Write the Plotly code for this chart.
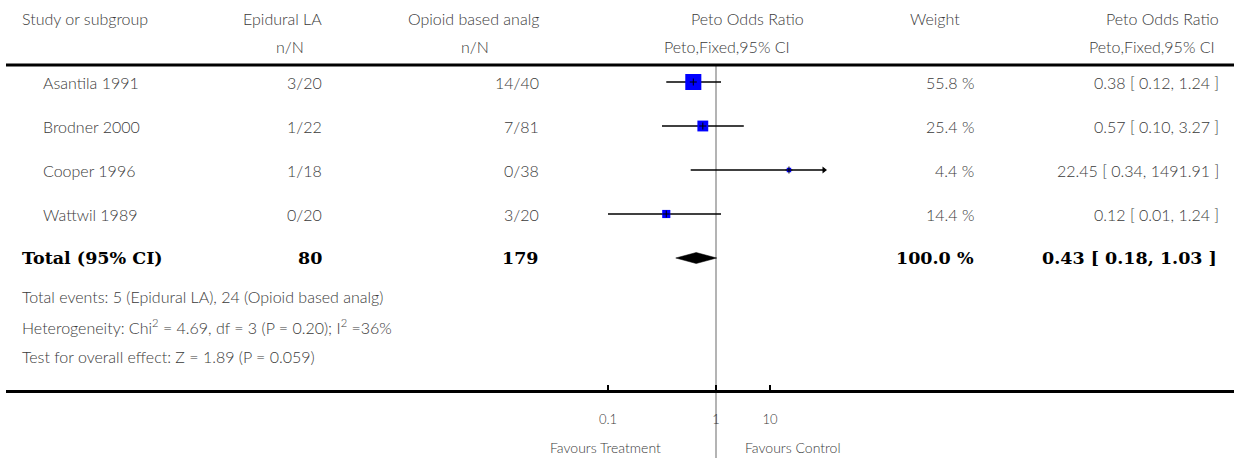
import math
import plotly.graph_objects as go

# ---- study data -------------------------------------------------------
studies = ["Asantila 1991", "Brodner 2000", "Cooper 1996", "Wattwil 1989"]
epi_events = [3, 1, 1, 0]
epi_total = [20, 22, 18, 20]
opi_events = [14, 7, 0, 3]
opi_total = [40, 81, 38, 20]
peto_or = [0.38, 0.57, 22.45, 0.12]
ci_low = [0.12, 0.10, 0.34, 0.01]
ci_high = [1.24, 3.27, 1491.91, 1.24]
weight = [55.8, 25.4, 4.4, 14.4]

pooled_or = 0.43
pooled_low = 0.18
pooled_high = 1.03
pooled_weight = 100.0

chi2, chi_df, p_het, i2 = 4.69, 3, 0.20, 36
z_val, p_z = 1.89, 0.059

tick_vals = [0.01, 1, 10]
tick_text = ["0.1", "1", "10"]
display_max = 100  # CI arms beyond this are drawn as arrows

# ---- layout geometry (pixels) ----------------------------------------
W, H = 1234, 458
row_y = [82, 126, 170, 214]
total_y = 258
foot_y = [296, 326, 356]
axis_y = 391
null_px = 716          # position of OR = 1
px_per_decade = 54
left_px = 6

r0 = -(null_px - left_px) / px_per_decade
r1 = r0 + (W - left_px) / px_per_decade

TXT = "#3a3a3a"
FONT = "Lato"
SERIF = "DejaVu Serif"
BASE = 16

fig = go.Figure()

# line of no effect
fig.add_trace(go.Scatter(x=[1, 1], y=[64, H], mode="lines",
                         line=dict(color="#b4b4b4", width=2),
                         hoverinfo="skip", showlegend=False))

# confidence intervals
for y, lo, hi in zip(row_y, ci_low, ci_high):
    fig.add_trace(go.Scatter(x=[lo, min(hi, display_max)], y=[y, y], mode="lines",
                             line=dict(color="black", width=1.5),
                             hoverinfo="skip", showlegend=False))
    if hi > display_max:
        fig.add_trace(go.Scatter(x=[display_max], y=[y], mode="markers",
                                 marker=dict(symbol="triangle-right", size=6, color="black"),
                                 hoverinfo="skip", showlegend=False))

# weighted squares
fig.add_trace(go.Scatter(
    x=peto_or, y=row_y, mode="markers",
    marker=dict(symbol="square", color="#0000ff", opacity=1,
                size=[2.15 * math.sqrt(w) for w in weight], line=dict(width=0)),
    hoverinfo="skip", showlegend=False))
fig.add_trace(go.Scatter(
    x=peto_or, y=row_y, mode="markers",
    marker=dict(symbol="cross-thin", size=5, opacity=1,
                line=dict(color="black", width=1)),
    hoverinfo="skip", showlegend=False))

# pooled diamond
half_h = 5.5
fig.add_trace(go.Scatter(
    x=[pooled_low, pooled_or, pooled_high, pooled_or, pooled_low],
    y=[total_y, total_y - half_h, total_y, total_y + half_h, total_y],
    mode="lines", fill="toself", fillcolor="black",
    line=dict(color="black", width=0.5),
    hoverinfo="skip", showlegend=False))


def txt(x_px, y, s, anchor="right", size=BASE, bold=False, serif=False, color=TXT):
    font = dict(family=SERIF if serif else FONT, size=size,
                color="black" if serif else color)
    if not serif:
        font["weight"] = 300
    fig.add_annotation(
        x=x_px / W, xref="paper", y=y, yref="y", text=f"<b>{s}</b>" if bold else s,
        showarrow=False, xanchor=anchor, yanchor="middle", font=font)


# headers
hdr1, hdr2 = 18, 46
txt(20, hdr1, "Study or subgroup", "left")
txt(324, hdr1, "Epidural LA")
txt(290, hdr2, "n/N", "center")
txt(541, hdr1, "Opioid based analg")
txt(475, hdr2, "n/N", "center")
txt(806, hdr1, "Peto Odds Ratio")
txt(792, hdr2, "Peto,Fixed,95% CI")
txt(962, hdr1, "Weight")
txt(1221, hdr1, "Peto Odds Ratio")
txt(1217, hdr2, "Peto,Fixed,95% CI")

# study rows
for i, y in enumerate(row_y):
    txt(41, y, studies[i], "left")
    txt(324, y, f"{epi_events[i]}/{epi_total[i]}")
    txt(541, y, f"{opi_events[i]}/{opi_total[i]}")
    txt(976, y, f"{weight[i]:.1f} %")
    txt(1221, y, f"{peto_or[i]:.2f} [ {ci_low[i]:.2f}, {ci_high[i]:.2f} ]")

# total row
TS = 17.5
txt(20, total_y, "Total (95% CI)", "left", size=TS, bold=True, serif=True)
txt(324, total_y, f"{sum(epi_total)}", size=TS, bold=True, serif=True)
txt(541, total_y, f"{sum(opi_total)}", size=TS, bold=True, serif=True)
txt(976, total_y, f"{pooled_weight:.1f} %", size=TS, bold=True, serif=True)
txt(1219, total_y, f"{pooled_or:.2f} [ {pooled_low:.2f}, {pooled_high:.2f} ]",
    size=TS, bold=True, serif=True)

# footnotes
txt(20, foot_y[0], f"Total events: {sum(epi_events)} (Epidural LA), "
    f"{sum(opi_events)} (Opioid based analg)", "left")
txt(20, foot_y[1], f"Heterogeneity: Chi<sup>2</sup> = {chi2:.2f}, df = {chi_df} "
    f"(P = {p_het:.2f}); I<sup>2</sup> ={i2}%", "left")
txt(20, foot_y[2], f"Test for overall effect: Z = {z_val:.2f} (P = {p_z})", "left")

# favours labels
txt(663, 447, "Favours Treatment", size=14)
txt(743, 447, "Favours Control", "left", size=14)

# header rule
fig.add_shape(type="line", xref="paper", yref="y", x0=left_px / W, x1=1,
              y0=65, y1=65, line=dict(color="black", width=3))

fig.update_layout(
    width=W, height=H, margin=dict(l=0, r=0, t=0, b=0),
    paper_bgcolor="white", plot_bgcolor="white",
    xaxis=dict(type="log", range=[r0, r1], domain=[left_px / W, 1],
               anchor="free", position=(H - axis_y) / H,
               showgrid=False, zeroline=False,
               showline=True, linecolor="black", linewidth=3,
               ticks="inside", ticklen=5, tickwidth=2, tickcolor="black",
               tickvals=tick_vals, ticktext=tick_text,
               ticklabelstandoff=15,
               tickfont=dict(family=FONT, size=13, color=TXT, weight=300)),
    yaxis=dict(range=[H, 0], domain=[0, 1], visible=False),
)

fig.write_html("out.html")
